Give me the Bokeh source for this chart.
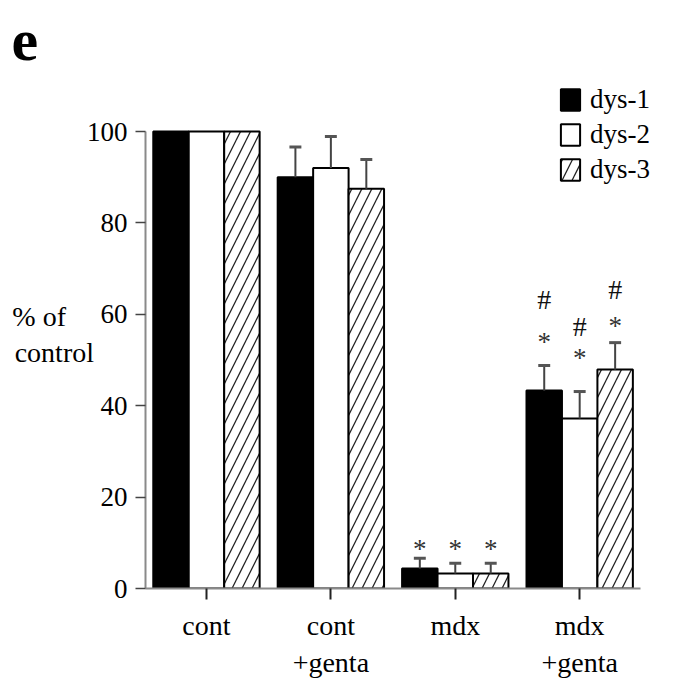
from bokeh.plotting import figure
from bokeh.models import Range1d, FixedTicker, Legend, LegendItem, Title
from bokeh.embed import file_html
from bokeh.resources import INLINE
from bokeh.core.properties import value

# ---- data ----
categories = ["cont", "cont\n+genta", "mdx", "mdx\n+genta"]
series = ["dys-1", "dys-2", "dys-3"]
dys1 = [100, 90.0, 4.4, 43.3]
dys1_err = [0, 6.6, 2.2, 5.5]
dys2 = [100, 92.0, 3.3, 37.2]
dys2_err = [0, 6.9, 2.2, 5.9]
dys3 = [100, 87.5, 3.3, 47.9]
dys3_err = [0, 6.4, 2.2, 5.9]
# significance marks: heights (% of control) where they are drawn
dys1_star = [None, None, 9.4, 54.7]
dys2_star = [None, None, 9.4, 51.2]
dys3_star = [None, None, 9.4, 58.0]
dys1_hash = [None, None, None, 63.5]
dys2_hash = [None, None, None, 57.5]
dys3_hash = [None, None, None, 65.6]
y_ticks = [0, 20, 40, 60, 80, 100]
y_label_lines = ["% of", "control"]
panel_label = "e"

FONT = "Liberation Serif"
BAR_W = 0.285

p = figure(width=670, height=680,
           x_range=Range1d(-0.49, 3.73), y_range=Range1d(0, 119.04),
           output_backend="svg", toolbar_location=None,
           min_border_left=145, min_border_right=0, min_border_top=44, min_border_bottom=92)
p.outline_line_color = None
p.xgrid.grid_line_color = None
p.ygrid.grid_line_color = None
p.background_fill_color = "white"
p.border_fill_color = "white"

styles = [
    dict(fill_color="black", hatch_pattern=None),
    dict(fill_color="white", hatch_pattern=None),
    dict(fill_color="white", hatch_pattern="/"),
]
values = [dys1, dys2, dys3]
errs = [dys1_err, dys2_err, dys3_err]
stars = [dys1_star, dys2_star, dys3_star]
hashes = [dys1_hash, dys2_hash, dys3_hash]

xs = list(range(len(categories)))
legend_items = []
for i, name in enumerate(series):
    off = (i - 1) * BAR_W
    bx = [x + off for x in xs]
    st = styles[i]
    kw = dict(x=bx, top=values[i], bottom=0, width=BAR_W,
              fill_color=st["fill_color"], line_color="black", line_width=2)
    if st["hatch_pattern"]:
        kw.update(hatch_pattern=st["hatch_pattern"], hatch_color="#222222",
                  hatch_scale=20, hatch_weight=1.3)
    r = p.vbar(**kw)
    legend_items.append(LegendItem(label=name, renderers=[r]))

    # error bars (upper only)
    ex = [bx[k] for k in range(len(xs)) if errs[i][k] > 0]
    ey0 = [values[i][k] for k in range(len(xs)) if errs[i][k] > 0]
    ey1 = [values[i][k] + errs[i][k] for k in range(len(xs)) if errs[i][k] > 0]
    p.segment(x0=ex, y0=ey0, x1=ex, y1=ey1, line_color="#444444", line_width=2)
    p.segment(x0=[x - 0.048 for x in ex], y0=ey1, x1=[x + 0.048 for x in ex], y1=ey1,
              line_color="#555555", line_width=3)

    # significance marks
    sx = [bx[k] for k in range(len(xs)) if stars[i][k] is not None]
    sy = [stars[i][k] for k in range(len(xs)) if stars[i][k] is not None]
    p.text(x=sx, y=sy, text=["*"] * len(sx), text_font=value(FONT), text_font_size="27px",
           text_align="center", text_baseline="middle", text_color="#333333", y_offset=3)
    hx = [bx[k] for k in range(len(xs)) if hashes[i][k] is not None]
    hy = [hashes[i][k] for k in range(len(xs)) if hashes[i][k] is not None]
    p.text(x=hx, y=hy, text=["#"] * len(hx), text_font=value(FONT), text_font_size="28px",
           text_align="center", text_baseline="middle", text_color="#111111", y_offset=1)

# axes
yax = p.yaxis[0]
yax.ticker = FixedTicker(ticks=y_ticks)
yax.bounds = (0, 100)
yax.axis_line_color = "#8a8a8a"
yax.axis_line_width = 2
yax.major_tick_line_color = "#444444"
yax.major_tick_line_width = 1.5
yax.major_tick_out = 10
yax.major_tick_in = 0
yax.minor_tick_line_color = None
yax.major_label_text_font = FONT
yax.major_label_text_font_size = "27px"
yax.major_label_text_color = "black"
yax.major_label_standoff = 8
# an empty first line lowers the block; pad the short line so both lines start left
yax.axis_label = "\u00a0\n" + y_label_lines[0] + "\u00a0" * 4 + "\n" + y_label_lines[1]
yax.axis_label_orientation = "horizontal"
yax.axis_label_text_font = FONT
yax.axis_label_text_font_size = "28px"
yax.axis_label_text_font_style = "normal"
yax.axis_label_text_color = "black"
yax.axis_label_text_align = "left"
yax.axis_label_text_line_height = 1.15
yax.axis_label_standoff = -10

xax = p.xaxis[0]
xax.ticker = FixedTicker(ticks=xs)
xax.major_label_overrides = {i: c for i, c in enumerate(categories)}
xax.bounds = (-0.49, 3.49)
xax.axis_line_color = "#8a8a8a"
xax.axis_line_width = 2
xax.major_tick_line_color = "#222222"
xax.major_tick_line_width = 2
xax.major_tick_out = 11
xax.major_tick_in = 0
xax.minor_tick_line_color = None
xax.major_label_text_font = FONT
xax.major_label_text_font_size = "28px"
xax.major_label_text_color = "black"
xax.major_label_standoff = 10

# panel letter
p.add_layout(Title(text=panel_label, align="left", offset=-134, standoff=-30,
                   vertical_align="bottom",
                   text_font=FONT, text_font_size="60px", text_font_style="bold",
                   text_color="black"), "above")

legend = Legend(items=legend_items, location=(413, 403), orientation="vertical",
                glyph_width=24, glyph_height=27, label_standoff=8, spacing=4,
                padding=0, margin=0, border_line_color=None, background_fill_alpha=0,
                label_text_font=FONT, label_text_font_size="27px", label_height=27,
                label_text_color="black")
p.add_layout(legend)

open("out.html", "w").write(file_html(p, INLINE))
